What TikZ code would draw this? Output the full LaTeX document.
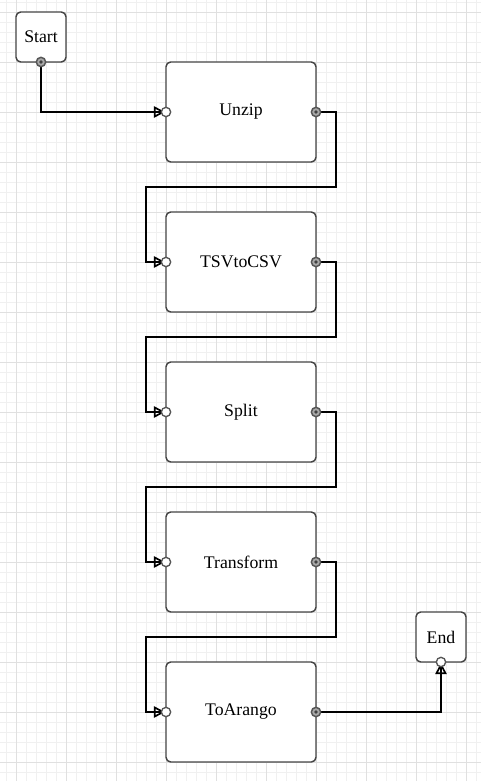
\documentclass[tikz,border=0pt]{standalone}
\usepackage{fontspec}
\setmainfont{Liberation Serif}
\usetikzlibrary{arrows.meta}
\definecolor{gridminor}{HTML}{F0F0F0}
\definecolor{gridmajor}{HTML}{E0E0E0}
\definecolor{boxline}{HTML}{444444}
\definecolor{portfill}{HTML}{A8A8A8}
\definecolor{portline}{HTML}{555555}
\tikzset{
  box/.style={draw=boxline, line width=1.1pt, rounded corners=3.5pt, fill=white,
    minimum width=112.5pt, minimum height=75pt, inner sep=0pt, outer sep=0pt,
    font=\fontsize{13.3pt}{15pt}\selectfont},
  smallbox/.style={box, minimum width=37.5pt, minimum height=37.5pt},
  conn/.style={draw=black, line width=1.5pt, shorten >=0.6pt,
    -{Triangle[length=8.5pt, width=8.5pt, fill=white, line width=1.3pt]},
    postaction={draw=black, line width=1.5pt, -, shorten >=1pt}},
  outport/.style={circle, draw=portline, fill=portfill, line width=1.1pt, minimum size=7pt, inner sep=0pt},
  inport/.style={circle, draw=portline, fill=white, line width=1pt, minimum size=7pt, inner sep=0pt},
  dotc/.style={circle, fill=black!75, minimum size=2.8pt, inner sep=0pt}
}
\begin{document}
\begin{tikzpicture}[x=0.75pt,y=-0.75pt]
\useasboundingbox (0,0) rectangle (481,781);
\fill[white] (0,0) rectangle (481,781);
% grid
\foreach \x in {6.5,16.5,...,476.5} \draw[gridminor, line width=0.75pt] (\x,0) -- (\x,781);
\foreach \y in {2.5,12.5,...,772.5} \draw[gridminor, line width=0.75pt] (0,\y) -- (481,\y);
\foreach \x in {16.5,66.5,...,466.5} \draw[gridmajor, line width=0.75pt] (\x,0) -- (\x,781);
\foreach \y in {12.5,62.5,...,762.5} \draw[gridmajor, line width=0.75pt] (0,\y) -- (481,\y);
% boxes
\node[smallbox] (start) at (41,37) {Start};
\node[box] (unzip) at (241,112) {Unzip};
\node[box] (tsv) at (241,262) {TSVtoCSV};
\node[box] (split) at (241,412) {Split};
\node[box] (transform) at (241,562) {Transform};
\node[box] (toarango) at (241,712) {ToArango};
\node[smallbox] (end) at (441,637) {End};
% connectors
\draw[conn] (start.south) |- (unzip.west);
\draw[conn] (unzip.east) -- ++(20,0) -- ++(0,75) -- ++(-190,0) |- (tsv.west);
\draw[conn] (tsv.east) -- ++(20,0) -- ++(0,75) -- ++(-190,0) |- (split.west);
\draw[conn] (split.east) -- ++(20,0) -- ++(0,75) -- ++(-190,0) |- (transform.west);
\draw[conn] (transform.east) -- ++(20,0) -- ++(0,75) -- ++(-190,0) |- (toarango.west);
\draw[conn] (toarango.east) -| (end.south);
% ports
\node[outport] (p1) at (start.south) {}; \node[dotc] at (p1) {};
\foreach \n in {unzip,tsv,split,transform,toarango}{
  \node[inport] (in-\n) at (\n.west) {};
  \node[outport] (out-\n) at (\n.east) {};
  \node[dotc] at (out-\n) {};
}
\node[inport] (in-end) at (end.south) {};
\end{tikzpicture}
\end{document}
